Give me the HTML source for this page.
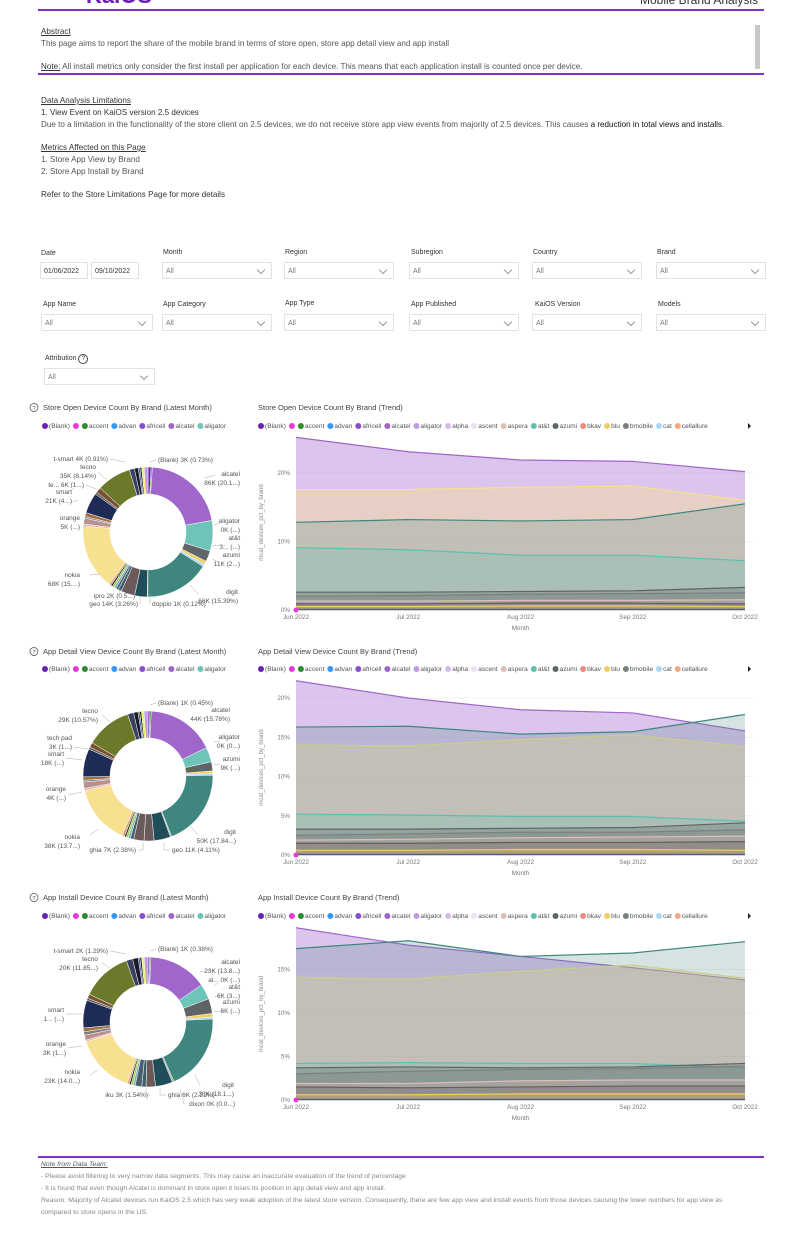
<!DOCTYPE html>
<html><head><meta charset="utf-8">
<style>
body{margin:0;background:#fff;font-family:"Liberation Sans",sans-serif;}
#page{position:relative;width:800px;height:1248px;overflow:hidden;background:#fff;}
.t{position:absolute;font-size:8.1px;color:#333;white-space:nowrap;}
.g{color:#555;}
.u{text-decoration:underline;}
.hr{position:absolute;left:38px;width:726px;height:2px;background:#7b35c9;}
.lab{position:absolute;font-size:7px;color:#333;}
.box{position:absolute;height:17px;border:1px solid #e2e2e2;background:#fff;font-size:7px;color:#777;box-sizing:border-box;padding:5px 0 0 3px;}
.box.dd::after{content:"";position:absolute;right:7px;top:4px;width:5px;height:5px;border-right:1px solid #999;border-bottom:1px solid #999;transform:rotate(45deg);}
.date{color:#333;}
svg text{font-family:"Liberation Sans",sans-serif;}
</style></head>
<body>
<div id="page">
<div class="t" style="left:86px;top:-17px;font-size:22px;font-weight:bold;color:#6a1fb5">KaiOS</div>
<div class="t" style="left:640px;top:-7px;font-size:12px;color:#333">Mobile Brand Analysis</div>
<div class="hr" style="top:9px"></div>
<div style="position:absolute;left:755px;top:25px;width:5px;height:44px;background:#c8c8c8"></div>
<div class="t u" style="left:41px;top:27px">Abstract</div>
<div class="t g" style="left:41px;top:39px">This page aims to report the share of the mobile brand in terms of store open, store app detail view and app install</div>
<div class="t g" style="left:41px;top:62px"><span class="u" style="color:#333">Note:</span> All install metrics only consider the first install per application for each device. This means that each application install is counted once per device.</div>
<div class="hr" style="top:73px"></div>
<div class="t u" style="left:41px;top:96px">Data Analysis Limitations</div>
<div class="t" style="left:41px;top:108px">1. View Event on KaiOS version 2.5 devices</div>
<div class="t g" style="left:41px;top:120px">Due to a limitation in the functionality of the store client on 2.5 devices, we do not receive store app view events from majority of 2.5 devices. This causes <span style="color:#111">a reduction in total views and installs.</span></div>
<div class="t u" style="left:41px;top:143px">Metrics Affected on this Page</div>
<div class="t g" style="left:41px;top:155px">1. Store App View by Brand</div>
<div class="t g" style="left:41px;top:167px">2. Store App Install by Brand</div>
<div class="t" style="left:41px;top:190px">Refer to the Store Limitations Page for more details</div>

<div class="lab" style="left:41px;top:250px">Date</div>
<div class="box date" style="left:40px;top:262px;width:48px">01/06/2022</div>
<div class="box date" style="left:91px;top:262px;width:48px">09/10/2022</div>
<div class="lab" style="left:163px;top:249px">Month</div>
<div class="box dd" style="left:162px;top:262px;width:110px">All</div>
<div class="lab" style="left:285px;top:249px">Region</div>
<div class="box dd" style="left:284px;top:262px;width:110px">All</div>
<div class="lab" style="left:411px;top:249px">Subregion</div>
<div class="box dd" style="left:409px;top:262px;width:110px">All</div>
<div class="lab" style="left:533px;top:249px">Country</div>
<div class="box dd" style="left:532px;top:262px;width:110px">All</div>
<div class="lab" style="left:657px;top:249px">Brand</div>
<div class="box dd" style="left:656px;top:262px;width:110px">All</div>

<div class="lab" style="left:43px;top:301px">App Name</div>
<div class="box dd" style="left:41px;top:314px;width:112px">All</div>
<div class="lab" style="left:163px;top:301px">App Category</div>
<div class="box dd" style="left:162px;top:314px;width:110px">All</div>
<div class="lab" style="left:285px;top:300px">App Type</div>
<div class="box dd" style="left:284px;top:314px;width:110px">All</div>
<div class="lab" style="left:411px;top:301px">App Published</div>
<div class="box dd" style="left:409px;top:314px;width:110px">All</div>
<div class="lab" style="left:535px;top:301px">KaiOS Version</div>
<div class="box dd" style="left:532px;top:314px;width:110px">All</div>
<div class="lab" style="left:658px;top:301px">Models</div>
<div class="box dd" style="left:656px;top:314px;width:110px">All</div>

<div class="lab" style="left:45px;top:354px">Attribution <span style="display:inline-block;width:8px;height:8px;border:1px solid #444;border-radius:50%;font-size:6px;text-align:center;line-height:8px">?</span></div>
<div class="box dd" style="left:44px;top:368px;width:111px">All</div>

<svg id="charts" width="800" height="1248" style="position:absolute;left:0;top:0"></svg>

<div class="hr" style="top:1156px"></div>
<div class="t u" style="left:41px;top:1161px;font-size:6.8px;font-style:italic;color:#555">Note from Data Team:</div>
<div class="t" style="left:41px;top:1173px;font-size:6.8px;color:#888">- Please avoid filtering to very narrow data segments. This may cause an inaccurate evaluation of the trend of percentage</div>
<div class="t" style="left:41px;top:1185px;font-size:6.8px;color:#888">- It is found that even though Alcatel is dominant in store open it loses its position in app detail view and app install.</div>
<div class="t" style="left:41px;top:1197px;font-size:6.8px;color:#888">Reason: Majority of Alcatel devices run KaiOS 2.5 which has very weak adoption of the latest store version. Consequently, there are few app view and install events from those devices causing the lower numbers for app view as</div>
<div class="t" style="left:41px;top:1209px;font-size:6.8px;color:#888">compared to store opens in the US.</div>
</div>

<script>
// ---------- data ----------
const months = ['Jun 2022','Jul 2022','Aug 2022','Sep 2022','Oct 2022'];
const trendSeries = ['alcatel','nokia','digit','at&t','azumi','bmobile','aspera','geo','blu'];

const open_alcatel=[25.2,23.1,21.9,21.7,20.2];
const open_nokia=[17.6,17.6,17.9,18.1,16.0];
const open_digit=[12.8,13.2,13.0,13.2,15.5];
const open_att=[9.1,8.8,8.0,8.0,7.2];
const open_azumi=[2.6,2.6,2.7,2.8,3.3];
const open_bmobile=[2.0,2.1,2.3,2.4,2.5];
const open_aspera=[1.3,1.3,1.4,1.4,1.5];
const open_geo=[0.9,0.9,1.0,1.0,0.9];
const open_blu=[0.5,0.5,0.6,0.6,0.5];

const view_alcatel=[22.2,20.0,18.5,18.1,15.8];
const view_nokia=[14.0,13.9,14.7,15.3,13.8];
const view_digit=[16.3,16.4,15.4,15.7,17.9];
const view_att=[5.2,5.1,4.9,4.9,4.3];
const view_azumi=[3.3,3.3,3.4,3.5,4.1];
const view_bmobile=[2.5,2.7,2.9,2.9,3.2];
const view_aspera=[1.9,2.0,2.2,2.3,2.4];
const view_geo=[1.5,1.5,1.6,1.6,1.7];
const view_blu=[0.6,0.6,0.7,0.7,0.6];

const inst_alcatel=[19.8,17.8,16.5,15.2,13.8];
const inst_nokia=[14.1,13.9,14.8,15.5,14.0];
const inst_digit=[17.4,18.3,16.5,16.9,18.2];
const inst_att=[4.2,4.3,4.2,4.2,3.7];
const inst_azumi=[3.7,3.8,3.7,3.8,4.2];
const inst_bmobile=[3.0,3.3,3.5,3.6,3.9];
const inst_aspera=[1.9,1.9,2.2,2.3,2.3];
const inst_geo=[1.5,1.4,1.5,1.6,1.6];
const inst_blu=[0.6,0.6,0.7,0.7,0.7];

const openTicks=[0,10,20];
const viewTicks=[0,5,10,15,20];
const instTicks=[0,5,10,15];

const donutBrands1=['(Blank)','accent','alcatel','aligator','azumi','blu','cat','digit','doppio','dx','geo','g2','g3','g4','ipro','g5','g6','nokia','pk','orange','o2','o3','smart','s2','te','tecno','d1','t-smart','b1','b2','y1','l1'];
const donutValues1=[0.73,0.3,20.1,7.2,2.6,0.8,0.6,15.39,0.12,3.0,3.26,0.8,0.6,0.5,0.5,0.4,0.5,15.5,0.5,1.4,0.4,0.9,4.9,0.5,1.3,8.14,1.2,0.91,0.4,0.4,0.6,0.9];
const donutBrands2=['(Blank)','accent','alcatel','aligator','azumi','blu','cat','digit','doppio','dx','geo','ghia','g3','g4','ipro','g5','g6','nokia','pk','orange','o2','o3','smart','s2','tech pad','tecno','d1','t-smart','b1','b2','y1','l1'];
const donutValues2=[0.45,0.3,15.78,3.4,2.1,0.6,0.4,17.84,0.3,3.8,2.3,2.38,0.8,0.5,0.5,0.4,0.6,13.7,0.5,1.5,0.4,0.8,6.5,0.5,1.1,10.57,1.4,1.0,0.4,0.4,0.6,0.9];
const donutBrands3=['(Blank)','accent','alcatel','aligator','azumi','blu','cat','digit','dixon','dx','ghia','g2','iku','g4','ipro','g5','g6','nokia','pk','orange','o2','o3','smart','s2','te','tecno','d1','t-smart','b1','b2','y1','l1'];
const donutValues3=[0.38,0.3,13.8,3.6,3.5,0.8,0.5,18.1,0.4,4.0,2.21,1.0,1.54,0.5,0.5,0.4,0.5,14.0,0.4,1.2,0.8,0.9,6.5,0.5,1.0,11.85,1.5,1.29,0.4,0.4,0.6,0.9];

const legendDonut=['(Blank)','','accent','advan','africell','alcatel','aligator'];
const legendTrend=['(Blank)','','accent','advan','africell','alcatel','aligator','alpha','ascent','aspera','at&t','azumi','bkav','blu','bmobile','cat','cellallure'];

// ---------- styles ----------
const C={'(Blank)':'#6a1fb5','':'#e83ad8','accent':'#2e8b2e','advan':'#3399ff','africell':'#8a4fcf','alcatel':'#a066cc','aligator':'#6ec4b8','alpha':'#d6b8ec','ascent':'#ece0f4','aspera':'#dcc0b8','at&t':'#5cc0b0','azumi':'#5f6466','bkav':'#f08a80','blu':'#f2cc60','bmobile':'#7a8080','cat':'#a8d8f0','cellallure':'#f4a880',
'nokia':'#f7e08f','digit':'#3e867e','doppio':'#99aaaa','dixon':'#99aaaa','dx':'#1f4e5a','geo':'#6b5a5a','ghia':'#6b5a5a','g2':'#3f5f6a','g3':'#4a6070','iku':'#4a6070','g4':'#77aabb','ipro':'#9ad04a','g5':'#1a1a1a','g6':'#e0a080','pk':'#e8b0b0','orange':'#b89090','o2':'#7a8080','o3':'#a07040','smart':'#1f2b57','s2':'#555555','te':'#7a5230','tech pad':'#7a5230','tecno':'#6a7a2a','d1':'#3a4060','t-smart':'#1a1a2a','b1':'#3355aa','b2':'#111111','y1':'#f0f060','l1':'#c09be0'};
const legendTrendColor={'alcatel':'#a066cc','aligator':'#c09be0'};
const fillOpacity={'alcatel':0.38,'nokia':0.4,'digit':0.22,'at&t':0.22};
const S=document.getElementById('charts');
const NS='http://www.w3.org/2000/svg';
function mk(tag,attrs,parent){const e=document.createElementNS(NS,tag);for(const k in attrs)e.setAttribute(k,attrs[k]);(parent||S).appendChild(e);return e;}
function txt(x,y,s,size,fill,anchor,parent){const e=mk('text',{x:x,y:y,'font-size':size,fill:fill,'text-anchor':anchor||'start'},parent);e.textContent=s;return e;}

function title(x,y,s,help,name){
  const g=mk('g',{});
  
  
  if(help){mk('circle',{cx:x-9,cy:y-2.5,r:4,fill:'none',stroke:'#444','stroke-width':0.7},g);txt(x-9,y,'?',5.5,'#444','middle',g);}
  txt(x,y,s,7.5,'#444','start',g);
}
function legend(x,y,items,name,arrowX,colorOverride){
  const g=mk('g',{});
  
  
  let cx=x;
  items.forEach(b=>{
    const col=(colorOverride&&colorOverride[b])||C[b];
    const d=mk('circle',{cx:cx+3,cy:y-2,r:3,fill:col},g);
    
    
    if(b){const t=txt(cx+7,y,b,6.6,'#555','start',g);cx+=7+t.getComputedTextLength()+3;}else cx+=9;
  });
  if(arrowX){const a=mk('path',{d:`M${arrowX},${y-5} L${arrowX+3},${y-2} L${arrowX},${y+1}Z`,fill:'#222'},g);
    
    }
}
function donut(cx,cy,brands,vals,name){
  const g=mk('g',{});
  
  
  const tot=vals.reduce((a,b)=>a+b,0);const R=65,r=38;let a0=0;
  vals.forEach((v,i)=>{
    const a1=a0+v/tot*Math.PI*2;
    const p=(a,rr)=>[cx+rr*Math.sin(a),cy-rr*Math.cos(a)];
    const [x1,y1]=p(a0,R),[x2,y2]=p(a1,R),[x3,y3]=p(a1,r),[x4,y4]=p(a0,r);
    const lg=(a1-a0)>Math.PI?1:0;
    const s=mk('path',{d:`M${x1},${y1} A${R},${R} 0 ${lg} 1 ${x2},${y2} L${x3},${y3} A${r},${r} 0 ${lg} 0 ${x4},${y4}Z`,fill:C[brands[i]]||'#888',stroke:'#fff','stroke-width':0.5},g);
    
    
    a0=a1;
  });
}
function dlabels(list,name){
  const g=mk('g',{});
  
  
  list.forEach(l=>{
    txt(l[0],l[1],l[2],6.5,'#555',l[3],g);
    if(l[4])txt(l[0],l[1]+9,l[4],6.5,'#555',l[3],g);
    if(l[5])mk('polyline',{points:l[5],fill:'none',stroke:'#aaa','stroke-width':0.5},g);
  });
}
function trend(x0,x1,y0,yPer1,top,ticks,series,name){
  const g=mk('g',{});
  
  
  const X=i=>x0+i*(x1-x0)/(months.length-1);
  const Y=v=>y0-v*yPer1;
  ticks.forEach(t=>{
    mk('line',{x1:x0,x2:x1+8,y1:Y(t),y2:Y(t),stroke:'#eee','stroke-width':0.7},g);
    txt(x0-6,Y(t)+2,t+'%',6.3,'#777','end',g);
  });
  months.forEach((m,i)=>txt(X(i),y0+9,m,6.3,'#777','middle',g));
  txt((x0+x1)/2,y0+20,'Month',6.3,'#777','middle',g);
  const yt=txt(0,0,'mcat_devices_pct_by_brand',6,'#888','middle',g);
  yt.setAttribute('transform',`translate(${x0-33},${(y0+top)/2}) rotate(-90)`);
  series.forEach((vals,si)=>{
    const key=trendSeries[si];
    const col=C[key];
    let d=`M${X(0)},${Y(0)}`;vals.forEach((v,i)=>d+=` L${X(i)},${Y(v)}`);d+=` L${X(vals.length-1)},${Y(0)}Z`;
    const a=mk('path',{d:d,fill:col,'fill-opacity':fillOpacity[key]||0.3},g);
    
    
    const l=mk('polyline',{points:vals.map((v,i)=>X(i)+','+Y(v)).join(' '),fill:'none',stroke:col,'stroke-width':1.2},g);
    
    
  });
  mk('line',{x1:x0,x2:x1,y1:Y(0)-0.5,y2:Y(0)-0.5,stroke:'#556070','stroke-width':1.5},g);
  mk('circle',{cx:x0,cy:Y(0),r:2.5,fill:'#e83ad8'},g);
}

// ---------- section 1 ----------
title(43,410,'Store Open Device Count By Brand (Latest Month)',true,'store-open-donut-title');
legend(42,428,legendDonut,'store-open-donut-legend');
donut(148,532,donutBrands1,donutValues1,'store-open-donut');
dlabels([[158,462,'(Blank) 3K (0.73%)','start','',"150,462 156,460"],
[240,476,'alcatel','end','86K (20.1...)',"205,478 215,475"],
[240,523,'aligator','end','0K (...)',"214,525 222,522"],
[240,540,'at&t','end','3... (...)',"212,546 226,545"],
[240,557,'azumi','end','11K (2...)',"212,559 220,563"],
[238,594,'digit','end','66K (15.39%)',"190,585 198,594"],
[152,606,'doppio 1K (0.12%)','start','',"150,594 150,604"],
[138,606,'geo 14K (3.26%)','end','',"140,596 140,604"],
[135,598,'ipro 2K (0.5...)','end','',"121,589 117,596"],
[80,577,'nokia','end','68K (15....)',"90,575 100,574"],
[80,520,'orange','end','5K (...)',"83,527 86,526"],
[72,494,'smart','end','21K (4...)',"73,502 78,500"],
[84,487,'te... 6K (1...)','end','',"86,485 96,489"],
[96,469,'tecno','end','35K (8.14%)',"98,472 107,480"],
[108,461,'t-smart 4K (0.91%)','end','',"110,459 125,462"]],'store-open-donut-labels');
title(258,410,'Store Open Device Count By Brand (Trend)',false,'store-open-trend-title');
legend(258,428,legendTrend,'store-open-trend-legend',748,legendTrendColor);
trend(296,745,610,6.85,435,openTicks,[open_alcatel,open_nokia,open_digit,open_att,open_azumi,open_bmobile,open_aspera,open_geo,open_blu],'store-open-trend-chart');

// ---------- section 2 ----------
title(43,654,'App Detail View Device Count By Brand (Latest Month)',true,'app-view-donut-title');
legend(42,671,legendDonut,'app-view-donut-legend');
donut(148,776,donutBrands2,donutValues2,'app-view-donut');
dlabels([[158,705,'(Blank) 1K (0.45%)','start','',"150,705 156,703"],
[230,712,'alcatel','end','44K (15.78%)',"200,720 208,716"],
[240,739,'aligator','end','0K (0...)',"214,742 220,741"],
[240,761,'azumi','end','9K (...)',"214,765 220,764"],
[236,834,'digit','end','50K (17.84...)',"190,826 198,835"],
[172,852,'geo 11K (4.11%)','start','',"164,842 164,850 170,850"],
[136,852,'ghia 7K (2.38%)','end','',"143,842 143,850 138,850"],
[80,839,'nokia','end','38K (13.7...)',"90,835 98,829"],
[66,791,'orange','end','4K (...)',"68,795 82,792"],
[64,756,'smart','end','18K (...)',"66,758 82,760"],
[72,740,'tech pad','end','3K (1...)',"74,747 88,749"],
[98,713,'tecno','end','29K (10.57%)',"102,715 110,722"]],'app-view-donut-labels');
title(258,654,'App Detail View Device Count By Brand (Trend)',false,'app-view-trend-title');
legend(258,671,legendTrend,'app-view-trend-legend',748,legendTrendColor);
trend(296,745,855,7.85,680,viewTicks,[view_alcatel,view_nokia,view_digit,view_att,view_azumi,view_bmobile,view_aspera,view_geo,view_blu],'app-view-trend-chart');

// ---------- section 3 ----------
title(43,900,'App Install Device Count By Brand (Latest Month)',true,'app-install-donut-title');
legend(42,918,legendDonut,'app-install-donut-legend');
donut(148,1022,donutBrands3,donutValues3,'app-install-donut');
dlabels([[158,951,'(Blank) 1K (0.38%)','start','',"150,951 156,949"],
[240,964,'alcatel','end','23K (13.8...)',"200,972 210,970"],
[240,982,'al... 0K (...)','end','',"214,986 218,983"],
[240,989,'at&t','end','6K (3...)',"214,997 224,995"],
[240,1004,'azumi','end','6K (...)',"214,1011 224,1012"],
[234,1087,'digit','end','30K (18.1...)',"195,1075 200,1085"],
[235,1106,'dixon 0K (0.0...)','end','',"180,1090 184,1104"],
[168,1097,'ghia 6K (2.21%)','start','',"160,1088 160,1095 166,1095"],
[148,1097,'iku 3K (1.54%)','end','',"146,1088 146,1095 150,1095"],
[80,1074,'nokia','end','23K (14.0...)',"90,1075 98,1070"],
[66,1046,'orange','end','3K (1...)',"68,1048 82,1046"],
[64,1012,'smart','end','1... (...)',"66,1014 82,1014"],
[98,961,'tecno','end','20K (11.85...)',"102,963 110,968"],
[108,953,'t-smart 2K (1.29%)','end','',"110,951 126,954"]],'app-install-donut-labels');
title(258,900,'App Install Device Count By Brand (Trend)',false,'app-install-trend-title');
legend(258,918,legendTrend,'app-install-trend-legend',748,legendTrendColor);
trend(296,745,1100,8.7,928,instTicks,[inst_alcatel,inst_nokia,inst_digit,inst_att,inst_azumi,inst_bmobile,inst_aspera,inst_geo,inst_blu],'app-install-trend-chart');
</script>
</body></html>
